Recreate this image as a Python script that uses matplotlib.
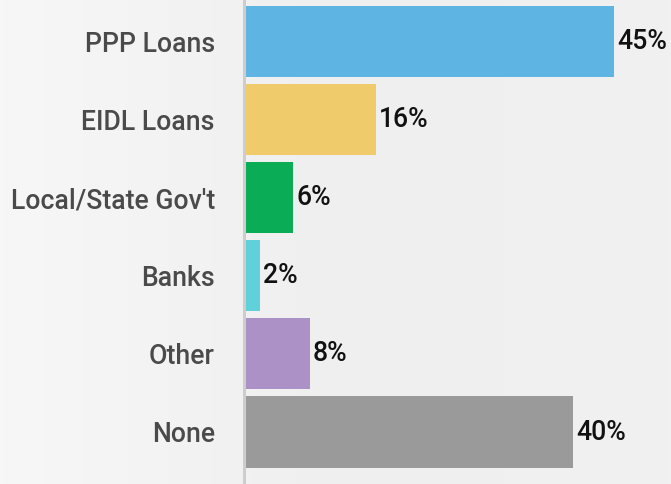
import matplotlib
matplotlib.use("Agg")
import matplotlib.pyplot as plt
import numpy as np

categories = ["PPP Loans", "EIDL Loans", "Local/State Gov't", "Banks", "Other", "None"]
values = [45, 16, 6, 2, 8, 40]
colors = ["#5eb5e3", "#efcb6b", "#0aad55", "#60d0da", "#ab91c6", "#9a9a9a"]

W, H = 671, 484
fig = plt.figure(figsize=(W / 100, H / 100), dpi=100)
fig.patch.set_facecolor("#f0f0f0")

# soft background gradient
bg = fig.add_axes([0, 0, 1, 1], zorder=-10)
gx = np.linspace(0, 1, 200)
grad = np.tile(gx, (10, 1))
bg.imshow(grad, aspect="auto", cmap=matplotlib.colors.LinearSegmentedColormap.from_list(
    "g", ["#f7f7f7", "#efefef", "#f1f1f1"]), extent=[0, 1, 0, 1])
bg.axis("off")

left = 244 / W
ax = fig.add_axes([left, 0, 1 - left, 1])
ax.patch.set_alpha(0)
px_per_unit = (614 - 244) / 45
ax.set_xlim(0, (W - 244) / px_per_unit)
spacing = 78.1
c0 = 41.5
ax.set_ylim((H - c0) / spacing, -c0 / spacing)

y = np.arange(len(categories))
ax.barh(y, values, height=0.91, color=colors, zorder=2)

for yi, v in zip(y, values):
    ax.text(v + 0.35, yi, f"{v}%", va="center", ha="left", fontsize=19.2,
            family="Roboto", fontweight="medium", color="#111111")

ax.set_yticks(y)
ax.set_yticklabels(categories, fontsize=19.2, family="Roboto", fontweight="medium",
                   color="#4a4a4a")
ax.tick_params(axis="y", length=0, pad=21)
ax.set_xticks([])
for s in ["top", "right", "bottom"]:
    ax.spines[s].set_visible(False)
ax.spines["left"].set_color("#cdcdcd")
ax.spines["left"].set_linewidth(2.2)
ax.spines["left"].set_zorder(3)

fig.savefig("out.png", dpi=100, facecolor=fig.get_facecolor())
